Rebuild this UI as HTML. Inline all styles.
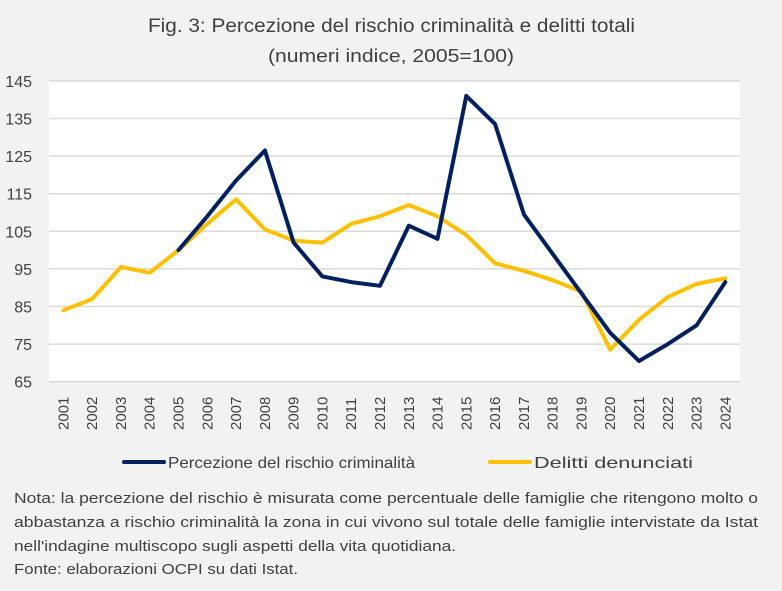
<!DOCTYPE html>
<html><head><meta charset="utf-8"><style>
body{margin:0;background:#f2f2f2;}
svg{display:block;font-family:"Liberation Sans",sans-serif;}
</style></head><body>
<svg width="782" height="591" viewBox="0 0 782 591" xmlns="http://www.w3.org/2000/svg">
<rect width="782" height="591" fill="#f2f2f2"/>
<text x="148" y="32" font-size="19" fill="#404040" textLength="487" lengthAdjust="spacingAndGlyphs">Fig. 3: Percezione del rischio criminalità e delitti totali</text>
<text x="268" y="62" font-size="18" fill="#404040" textLength="246" lengthAdjust="spacingAndGlyphs">(numeri indice, 2005=100)</text>
<rect x="49" y="81" width="691" height="301" fill="#fff"/>
<g stroke="#d9d9d9" stroke-width="1.5" id="grid"></g>
<g font-size="16" fill="#404040" id="ylab" text-anchor="end"></g>
<g font-size="15" fill="#404040" id="xlab"></g>
<polyline id="yel" fill="none" stroke="#ffc000" stroke-width="4" stroke-linejoin="round" stroke-linecap="round"/>
<polyline id="nav" fill="none" stroke="#002060" stroke-width="4" stroke-linejoin="round" stroke-linecap="round"/>
<line x1="124" y1="462" x2="164" y2="462" stroke="#002060" stroke-width="4" stroke-linecap="round"/>
<text x="168" y="468" font-size="16" fill="#404040" textLength="247" lengthAdjust="spacingAndGlyphs">Percezione del rischio criminalità</text>
<line x1="490" y1="462" x2="530" y2="462" stroke="#ffc000" stroke-width="4" stroke-linecap="round"/>
<text x="534" y="468" font-size="16" fill="#404040" textLength="159" lengthAdjust="spacingAndGlyphs">Delitti denunciati</text>
<g font-size="15" fill="#404040" lengthAdjust="spacingAndGlyphs">
<text x="14" y="503" textLength="744" lengthAdjust="spacingAndGlyphs">Nota: la percezione del rischio è misurata come percentuale delle famiglie che ritengono molto o</text>
<text x="14" y="527" textLength="744" lengthAdjust="spacingAndGlyphs">abbastanza a rischio criminalità la zona in cui vivono sul totale delle famiglie intervistate da Istat</text>
<text x="14" y="551" textLength="442" lengthAdjust="spacingAndGlyphs">nell'indagine multiscopo sugli aspetti della vita quotidiana.</text>
<text x="14" y="574" textLength="284" lengthAdjust="spacingAndGlyphs">Fonte: elaborazioni OCPI su dati Istat.</text>
</g>
<script>
var ns="http://www.w3.org/2000/svg";
function Y(v){return 381.7-(v-65)*3.76;}
function X(i){return 63.4+i*28.78;}
var g=document.getElementById('grid'),yl=document.getElementById('ylab'),xl=document.getElementById('xlab');
for(var v=65;v<=145;v+=10){var l=document.createElementNS(ns,'line');l.setAttribute('x1',49);l.setAttribute('x2',740);l.setAttribute('y1',Y(v));l.setAttribute('y2',Y(v));g.appendChild(l);
var t=document.createElementNS(ns,'text');t.setAttribute('x',32);t.setAttribute('y',Y(v)+6);t.textContent=v;yl.appendChild(t);}
for(var i=0;i<24;i++){var t=document.createElementNS(ns,'text');var x=X(i)+5,y=430;t.setAttribute('transform','translate('+x+','+y+') rotate(-90)');t.textContent=2001+i;xl.appendChild(t);}
var yd=[84,87,95.5,94,100,107,113.5,105.5,102.5,102,107,109,112,109,104,96.5,94.5,92,89,73.5,81.5,87.5,91,92.5];
var nd=[null,null,null,null,100,109,118.5,126.5,102,93,91.5,90.5,106.5,103,141,133.5,109.5,99,88.5,78,70.5,75,80,91.5];
function pts(d){var s=[];d.forEach(function(v,i){if(v!==null)s.push(X(i).toFixed(1)+','+Y(v).toFixed(1));});return s.join(' ');}
document.getElementById('yel').setAttribute('points',pts(yd));
document.getElementById('nav').setAttribute('points',pts(nd));
</script>
</svg>
</body></html>
